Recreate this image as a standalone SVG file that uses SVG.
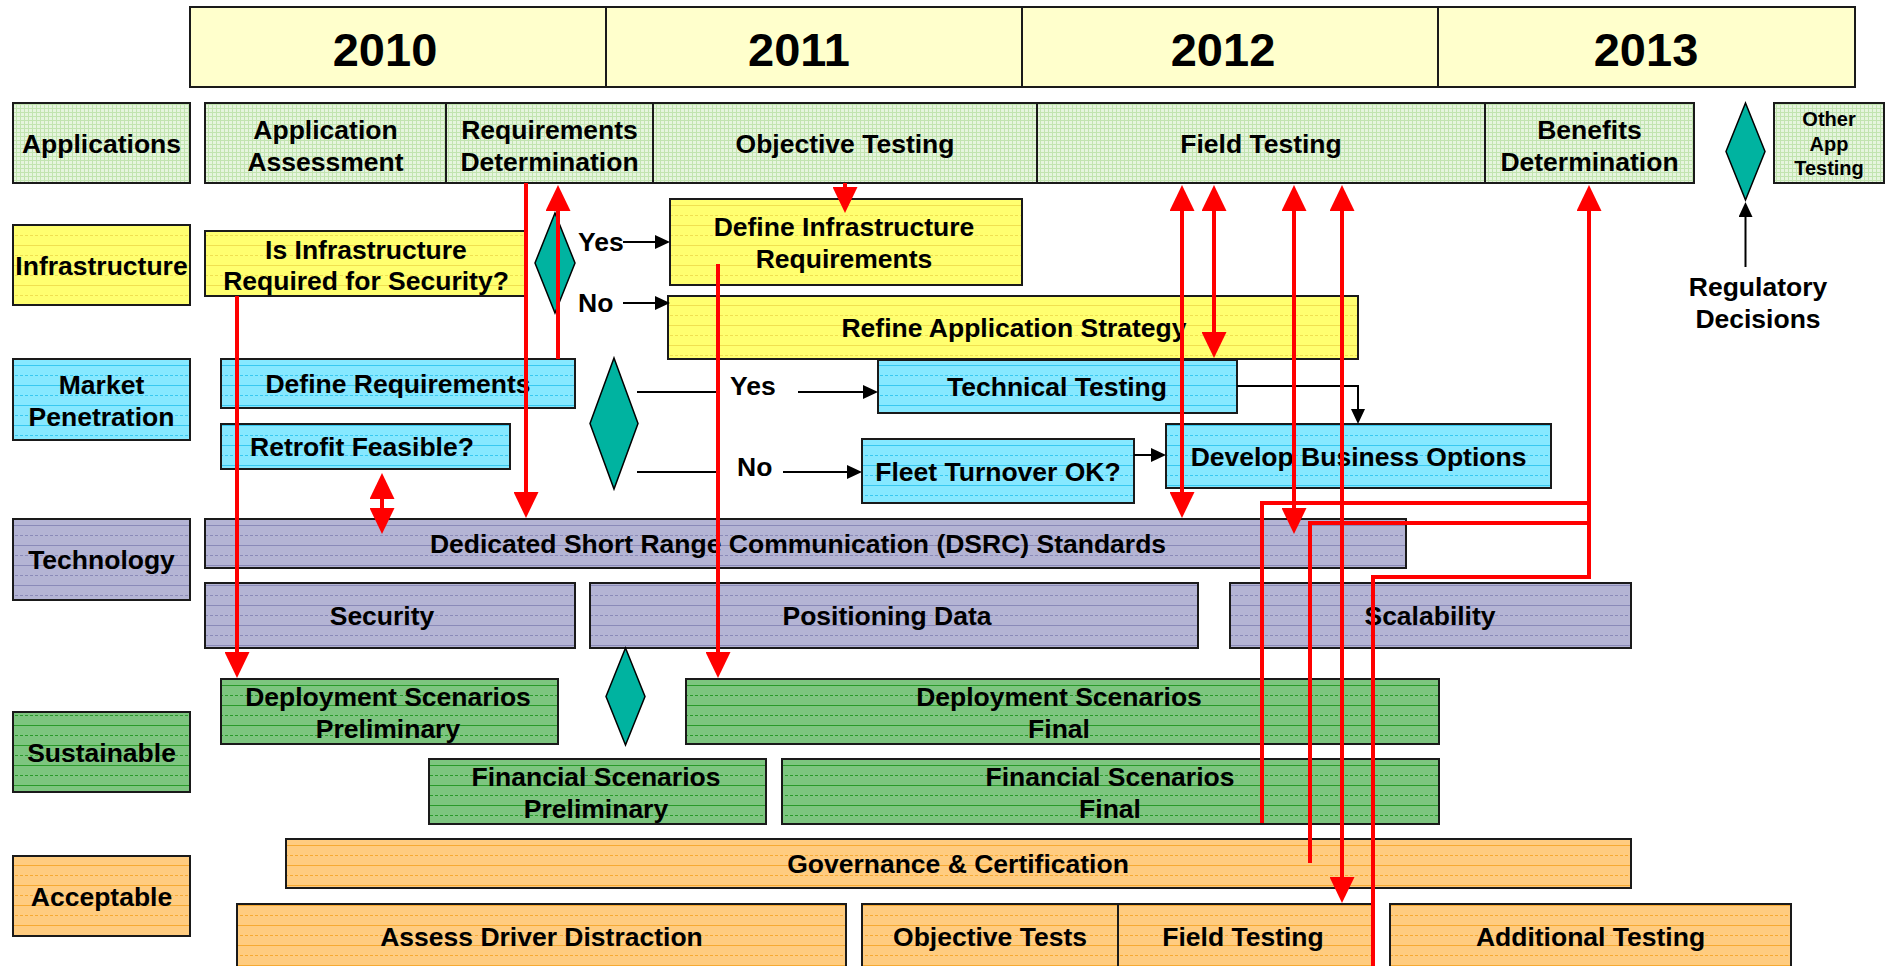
<svg xmlns="http://www.w3.org/2000/svg" width="1885" height="966" viewBox="0 0 1885 966">
<style>
.box{stroke:#1a1a1a;stroke-width:2}
.t{font-family:"Liberation Sans",Arial,sans-serif;font-weight:bold;font-size:26.5px;text-anchor:middle;fill:#000}
.yr{font-size:47px}
.sm{font-size:20px}
.lt{text-anchor:start}
.red{stroke:#ff0000;stroke-width:4;fill:none}
.blk{stroke:#000;stroke-width:2;fill:none}
.dia{fill:#00B3A0;stroke:#000;stroke-width:1.5}
.ra{marker-end:url(#ra)}
.rb{marker-start:url(#ra);marker-end:url(#ra)}
.ba{marker-end:url(#ba)}
</style>
<defs>
<pattern id="pg" width="4" height="4" patternUnits="userSpaceOnUse"><rect width="4" height="4" fill="#E6F5DE"/><path d="M0 .5H4M.5 0V4" stroke="#C2E4B0" stroke-width="1"/></pattern>
<pattern id="py" width="20" height="20" patternUnits="userSpaceOnUse"><rect width="20" height="20" fill="#FFFF70"/><path d="M0 5.5H20" stroke="#F0E050"/><path d="M0 15.5H20" stroke="#F0E050" stroke-dasharray="3 2"/></pattern>
<pattern id="pc" width="20" height="20" patternUnits="userSpaceOnUse"><rect width="20" height="20" fill="#86E8FF"/><path d="M0 5.5H20" stroke="#38C8F0"/><path d="M0 15.5H20" stroke="#38C8F0" stroke-dasharray="3 2"/></pattern>
<pattern id="pp" width="20" height="20" patternUnits="userSpaceOnUse"><rect width="20" height="20" fill="#B4B4D4"/><path d="M0 5.5H20" stroke="#8A8AB8"/><path d="M0 15.5H20" stroke="#8A8AB8" stroke-dasharray="3 2"/></pattern>
<pattern id="pgr" width="20" height="20" patternUnits="userSpaceOnUse"><rect width="20" height="20" fill="#7DC57F"/><path d="M0 5.5H20" stroke="#2A9A2A"/><path d="M0 15.5H20" stroke="#2A9A2A" stroke-dasharray="3 2"/></pattern>
<pattern id="po" width="20" height="20" patternUnits="userSpaceOnUse"><rect width="20" height="20" fill="#FFCC80"/><path d="M0 5.5H20" stroke="#F6AA33"/><path d="M0 15.5H20" stroke="#F6AA33" stroke-dasharray="3 2"/></pattern>
<marker id="ra" viewBox="0 0 26 25" refX="20" refY="12.5" markerWidth="26" markerHeight="25" markerUnits="userSpaceOnUse" orient="auto-start-reverse"><path d="M0 0L26 12.5L0 25z" fill="#ff0000"/></marker>
<marker id="ba" viewBox="0 0 15 14" refX="11" refY="7" markerWidth="15" markerHeight="14" markerUnits="userSpaceOnUse" orient="auto"><path d="M0 0L15 7L0 14z" fill="#000"/></marker>
</defs>
<rect width="1885" height="966" fill="#fff"/>

<g id="years">
<rect class="box" x="190" y="7" width="416" height="80" fill="#FFFFCC"/>
<rect class="box" x="606" y="7" width="416" height="80" fill="#FFFFCC"/>
<rect class="box" x="1022" y="7" width="416" height="80" fill="#FFFFCC"/>
<rect class="box" x="1438" y="7" width="417" height="80" fill="#FFFFCC"/>
<text class="t yr" x="385" y="66">2010</text>
<text class="t yr" x="799" y="66">2011</text>
<text class="t yr" x="1223" y="66">2012</text>
<text class="t yr" x="1646" y="66">2013</text>
</g>

<g id="label-applications"><rect class="box" x="13" y="103" width="177" height="80" fill="url(#pg)"/><text class="t" x="101.5" y="152.5">Applications</text></g>
<g id="label-infrastructure"><rect class="box" x="13" y="225" width="177" height="80" fill="url(#py)"/><text class="t" x="101.5" y="274.5">Infrastructure</text></g>
<g id="label-market"><rect class="box" x="13" y="359" width="177" height="81" fill="url(#pc)"/><text class="t" x="101.5" y="394">Market</text><text class="t" x="101.5" y="426">Penetration</text></g>
<g id="label-technology"><rect class="box" x="13" y="519" width="177" height="81" fill="url(#pp)"/><text class="t" x="101.5" y="569">Technology</text></g>
<g id="label-sustainable"><rect class="box" x="13" y="712" width="177" height="80" fill="url(#pgr)"/><text class="t" x="101.5" y="761.5">Sustainable</text></g>
<g id="label-acceptable"><rect class="box" x="13" y="856" width="177" height="80" fill="url(#po)"/><text class="t" x="101.5" y="905.5">Acceptable</text></g>

<g id="app-assessment"><rect class="box" x="205" y="103" width="241" height="80" fill="url(#pg)"/><text class="t" x="325.5" y="138.5">Application</text><text class="t" x="325.5" y="170.5">Assessment</text></g>
<g id="req-determination"><rect class="box" x="446" y="103" width="207" height="80" fill="url(#pg)"/><text class="t" x="549.5" y="138.5">Requirements</text><text class="t" x="549.5" y="170.5">Determination</text></g>
<g id="objective-testing"><rect class="box" x="653" y="103" width="384" height="80" fill="url(#pg)"/><text class="t" x="845" y="152.5">Objective Testing</text></g>
<g id="field-testing-app"><rect class="box" x="1037" y="103" width="448" height="80" fill="url(#pg)"/><text class="t" x="1261" y="152.5">Field Testing</text></g>
<g id="benefits"><rect class="box" x="1485" y="103" width="209" height="80" fill="url(#pg)"/><text class="t" x="1589.5" y="138.5">Benefits</text><text class="t" x="1589.5" y="170.5">Determination</text></g>
<g id="reg-diamond"><polygon class="dia" points="1745.5,103 1765,151.5 1745.5,200 1726,151.5"/></g>
<g id="other-app"><rect class="box" x="1774" y="103" width="110" height="80" fill="url(#pg)"/><text class="t sm" x="1829" y="126">Other</text><text class="t sm" x="1829" y="151">App</text><text class="t sm" x="1829" y="175">Testing</text></g>
<g id="regulatory"><text class="t" x="1758" y="296">Regulatory</text><text class="t" x="1758" y="328">Decisions</text></g>

<g id="is-infra"><rect class="box" x="205" y="231" width="320" height="65" fill="url(#py)"/><text class="t" x="366" y="258.5">Is Infrastructure</text><text class="t" x="366" y="289.5">Required for Security?</text></g>
<g id="infra-diamond"><polygon class="dia" points="555,213 575,263 555,313 535,263"/></g>
<g id="define-infra"><rect class="box" x="670" y="199" width="352" height="86" fill="url(#py)"/><text class="t" x="844" y="235.5">Define Infrastructure</text><text class="t" x="844" y="268">Requirements</text></g>
<g id="refine-strategy"><rect class="box" x="668" y="296" width="690" height="63" fill="url(#py)"/><text class="t" x="1014" y="337">Refine Application Strategy</text></g>

<g id="define-req"><rect class="box" x="221" y="359" width="354" height="49" fill="url(#pc)"/><text class="t" x="398" y="393">Define Requirements</text></g>
<g id="retrofit"><rect class="box" x="221" y="424" width="289" height="45" fill="url(#pc)"/><text class="t" x="362" y="456">Retrofit Feasible?</text></g>
<g id="market-diamond"><polygon class="dia" points="614,358 638,423.5 614,489 590,423.5"/></g>
<g id="technical-testing"><rect class="box" x="878" y="360" width="359" height="53" fill="url(#pc)"/><text class="t" x="1057" y="396">Technical Testing</text></g>
<g id="fleet"><rect class="box" x="862" y="439" width="272" height="64" fill="url(#pc)"/><text class="t" x="998" y="480.5">Fleet Turnover OK?</text></g>
<g id="develop-business"><rect class="box" x="1166" y="424" width="385" height="64" fill="url(#pc)"/><text class="t" x="1358.5" y="465.5">Develop Business Options</text></g>

<g id="dsrc"><rect class="box" x="205" y="519" width="1201" height="49" fill="url(#pp)"/><text class="t" x="798" y="553">Dedicated Short Range Communication (DSRC) Standards</text></g>
<g id="security"><rect class="box" x="205" y="583" width="370" height="65" fill="url(#pp)"/><text class="t" x="382" y="625">Security</text></g>
<g id="positioning"><rect class="box" x="590" y="583" width="608" height="65" fill="url(#pp)"/><text class="t" x="887" y="625">Positioning Data</text></g>
<g id="scalability"><rect class="box" x="1230" y="583" width="401" height="65" fill="url(#pp)"/><text class="t" x="1430" y="625">Scalability</text></g>

<g id="deploy-prelim"><rect class="box" x="221" y="679" width="337" height="65" fill="url(#pgr)"/><text class="t" x="388" y="706">Deployment Scenarios</text><text class="t" x="388" y="738">Preliminary</text></g>
<g id="sust-diamond"><polygon class="dia" points="625.5,648 645,696.5 625.5,745 606,696.5"/></g>
<g id="deploy-final"><rect class="box" x="686" y="679" width="753" height="65" fill="url(#pgr)"/><text class="t" x="1059" y="706">Deployment Scenarios</text><text class="t" x="1059" y="738">Final</text></g>
<g id="fin-prelim"><rect class="box" x="429" y="759" width="337" height="65" fill="url(#pgr)"/><text class="t" x="596" y="786">Financial Scenarios</text><text class="t" x="596" y="818">Preliminary</text></g>
<g id="fin-final"><rect class="box" x="782" y="759" width="657" height="65" fill="url(#pgr)"/><text class="t" x="1110" y="786">Financial Scenarios</text><text class="t" x="1110" y="818">Final</text></g>

<g id="governance"><rect class="box" x="286" y="839" width="1345" height="49" fill="url(#po)"/><text class="t" x="958" y="873">Governance &amp; Certification</text></g>
<g id="driver-distraction"><rect class="box" x="237" y="904" width="609" height="80" fill="url(#po)"/><text class="t" x="541.5" y="945.5">Assess Driver Distraction</text></g>
<g id="objective-tests"><rect class="box" x="862" y="904" width="256" height="80" fill="url(#po)"/><text class="t" x="990" y="945.5">Objective Tests</text></g>
<g id="field-testing-acc"><rect class="box" x="1118" y="904" width="254" height="80" fill="url(#po)"/><text class="t" x="1243" y="945.5">Field Testing</text></g>
<g id="additional-testing"><rect class="box" x="1390" y="904" width="401" height="80" fill="url(#po)"/><text class="t" x="1590.5" y="945.5">Additional Testing</text></g>

<g id="labels">
<text class="t lt" x="578" y="251">Yes</text>
<text class="t lt" x="578" y="312">No</text>
<text class="t lt" x="730" y="395">Yes</text>
<text class="t lt" x="737" y="476">No</text>
</g>

<g id="connectors">
<path class="blk ba" d="M623 242H666"/>
<path class="blk ba" d="M623 303H666"/>
<path class="blk" d="M637 392H716"/>
<path class="blk ba" d="M798 392H874"/>
<path class="blk" d="M637 472H716"/>
<path class="blk ba" d="M783 472H858"/>
<path class="blk ba" d="M1237 386H1358V420"/>
<path class="blk ba" d="M1134 455H1162"/>
<path class="blk ba" d="M1745.5 267V206"/>

<path class="red ra" d="M526 183V512"/>
<path class="red ra" d="M558 359V191"/>
<path class="red ra" d="M845 183V207"/>
<path class="red ra" d="M718 264V672"/>
<path class="red ra" d="M237 296V672"/>
<path class="red rb" d="M382 479V528"/>
<path class="red rb" d="M1182 191V512"/>
<path class="red rb" d="M1214 191V352"/>
<path class="red rb" d="M1294 191V528"/>
<path class="red rb" d="M1342 191V897"/>
<path class="red" d="M1262 823V503H1589"/>
<path class="red" d="M1310 863V523H1589"/>
<path class="red ra" d="M1373 990V577H1589V191"/>
</g>
</svg>
